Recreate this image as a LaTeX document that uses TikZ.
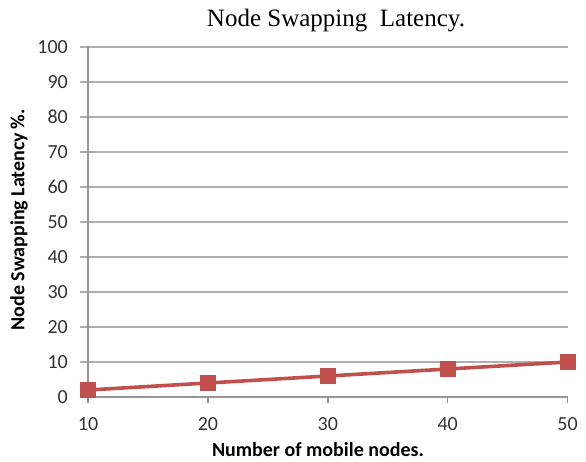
\documentclass[tikz,border=0pt]{standalone}
\usepackage{fontspec}
\setmainfont{Liberation Serif}
\newfontfamily\chartfont{Carlito}
\definecolor{seriesred}{RGB}{192,80,77}
\definecolor{gridgray}{RGB}{175,175,175}
\definecolor{axisgray}{RGB}{150,150,150}
\begin{document}
\begin{tikzpicture}[x=1pt,y=-1pt,
  gridline/.style={draw=gridgray,line width=1.4pt},
  axisline/.style={draw=axisgray,line width=1.4pt},
  ticklabel/.style={font=\chartfont\fontsize{20}{22}\selectfont,text=black!80,inner sep=0pt},
  axistitle/.style={font=\chartfont\bfseries\fontsize{20}{22}\selectfont,inner sep=0pt},
  marker/.style={fill=seriesred,draw=none,minimum size=16pt,inner sep=0pt,rectangle},
  series/.style={draw=seriesred,line width=3.6pt}]
\useasboundingbox (0,0) rectangle (586,461);

% horizontal grid lines and y tick labels (0 at 397, 35 units per 10)
\foreach \v in {10,20,...,100}{
  \draw[gridline] (80,{397-3.5*\v}) -- (567.7,{397-3.5*\v});
}
\foreach \v in {0,10,...,100}{
  \node[ticklabel,anchor=east] (ylab\v) at (68,{397-3.5*\v}) {\v};
}

% axes
\draw[axisline] (88,46) -- (88,397);
\draw[axisline] (80,397) -- (567.7,397);
\foreach \i/\xv in {0/10,1/20,2/30,3/40,4/50}{
  \draw[axisline] ({88+119.9*\i},397) -- ({88+119.9*\i},403);
  \node[ticklabel] (xlab\xv) at ({88+119.9*\i},424) {\xv};
}

% data series
\node[marker] (p1) at (88,{397-3.5*2}) {};
\node[marker] (p2) at (207.9,{397-3.5*4}) {};
\node[marker] (p3) at (327.8,{397-3.5*6}) {};
\node[marker] (p4) at (447.7,{397-3.5*8}) {};
\node[marker] (p5) at (567.6,{397-3.5*10}) {};
\draw[series] (p1.center) -- (p2.center) -- (p3.center) -- (p4.center) -- (p5.center);
\foreach \p in {p1,p2,p3,p4,p5}{
  \fill[seriesred] ([xshift=-8pt,yshift=8pt]\p.center) rectangle ([xshift=8pt,yshift=-8pt]\p.center);
}

% titles
\node[font=\fontsize{25}{27}\selectfont,inner sep=0pt] (title) at (336,21) {Node Swapping\ \ Latency.};
\node[axistitle,anchor=base] (xtitle) at (318,456) {Number of mobile nodes.};
\node[axistitle,rotate=90] (ytitle) at (19,220) {Node Swapping Latency\,\%.};
\end{tikzpicture}
\end{document}
